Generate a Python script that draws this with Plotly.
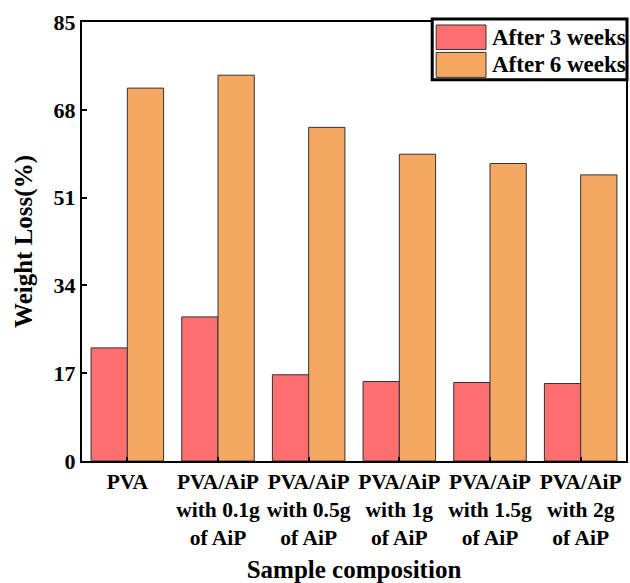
import plotly.graph_objects as go

categories = ["PVA", "PVA/AiP<br>with 0.1g<br>of AiP", "PVA/AiP<br>with 0.5g<br>of AiP",
              "PVA/AiP<br>with 1g<br>of AiP", "PVA/AiP<br>with 1.5g<br>of AiP", "PVA/AiP<br>with 2g<br>of AiP"]
after_3_weeks = [21.9, 27.9, 16.7, 15.4, 15.2, 15.0]
after_6_weeks = [72.2, 74.7, 64.6, 59.4, 57.6, 55.4]
series_names = ["After 3 weeks", "After 6 weeks"]
series_colors = ["#FF6F6F", "#F5A862"]
y_ticks = [0, 17, 34, 51, 68, 85]

FONT = "Liberation Serif"

fig = go.Figure()
x_idx = list(range(len(categories)))
for name, vals, col in zip(series_names, [after_3_weeks, after_6_weeks], series_colors):
    fig.add_trace(go.Bar(x=x_idx, y=vals, name=name, marker=dict(color=col, line=dict(color="#333333", width=1))))

fig.update_layout(
    width=630, height=583,
    margin=dict(l=82, r=2, t=22, b=121),
    plot_bgcolor="white", paper_bgcolor="white",
    barmode="group", bargap=0.2, bargroupgap=0,
    showlegend=False,
    font=dict(family=FONT, color="black"),
)
fig.update_xaxes(
    range=[-0.5, 5.5], tickmode="array", tickvals=x_idx, ticktext=categories,
    ticks="inside", ticklen=4, tickwidth=2, tickcolor="black",
    showline=True, linecolor="black", linewidth=2, mirror=True,
    showgrid=False, zeroline=False,
    tickfont=dict(family=FONT, size=21.5, weight="bold", color="black"),
    title=dict(text="Sample composition", font=dict(family=FONT, size=25, weight="bold", color="black"), standoff=14),
)
fig.update_yaxes(
    range=[0, 85], tickmode="array", tickvals=y_ticks,
    ticks="inside", ticklen=5, tickwidth=2, tickcolor="black",
    showline=True, linecolor="black", linewidth=2, mirror=True,
    showgrid=False, zeroline=False,
    tickfont=dict(family=FONT, size=22, weight="bold", color="black"),
    title=dict(text="Weight Loss(%)", font=dict(family=FONT, size=25, weight="bold", color="black"), standoff=14),
)

# custom legend (large swatches) built from series names/colors
def px_x(p):
    return (p - 82) / 546.0

def px_y(p):
    return (462 - p) / 440.0

fig.add_shape(type="rect", xref="paper", yref="paper",
              x0=px_x(433.5), x1=px_x(629), y0=px_y(80), y1=px_y(19),
              line=dict(color="black", width=3), fillcolor="white", layer="above")
swatch_rows = [(25, 49.5), (52.5, 77.5)]
for (top, bot), name, col in zip(swatch_rows, series_names, series_colors):
    fig.add_shape(type="rect", xref="paper", yref="paper",
                  x0=px_x(437.5), x1=px_x(487.5), y0=px_y(bot), y1=px_y(top),
                  line=dict(color="#333333", width=1), fillcolor=col, layer="above")
    fig.add_annotation(xref="paper", yref="paper", x=px_x(491), y=px_y((top + bot) / 2),
                       text=name, showarrow=False, xanchor="left", yanchor="middle",
                       font=dict(family=FONT, size=23, weight="bold", color="black"))

fig.write_html("out.html")
